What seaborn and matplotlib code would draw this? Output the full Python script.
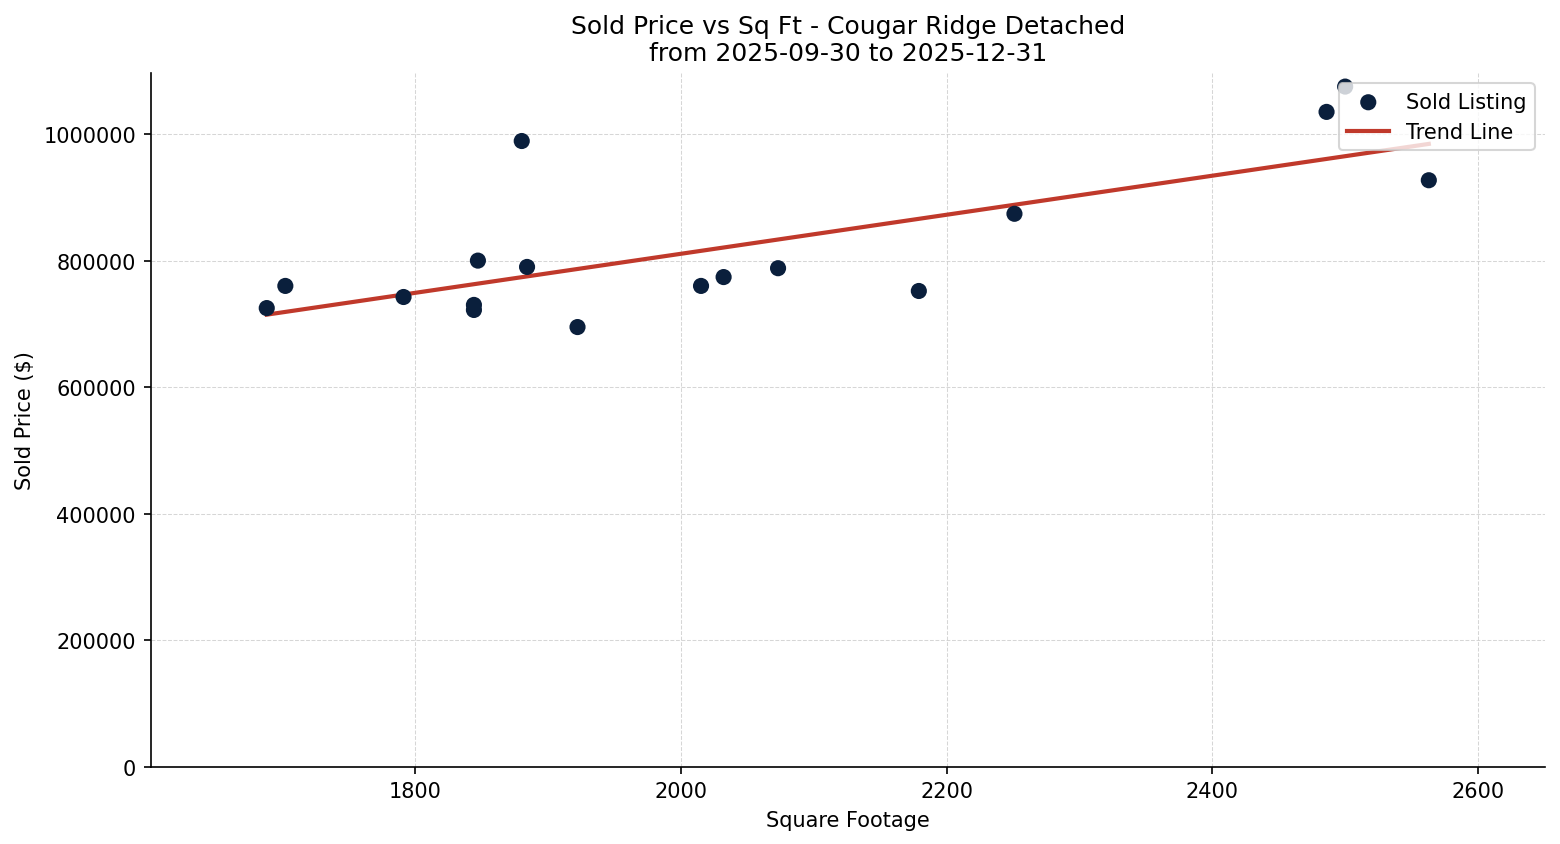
import numpy as np
import pandas as pd
import matplotlib
matplotlib.use("Agg")
import matplotlib.pyplot as plt
import seaborn as sns

# sold listings
sqft = [1688, 1702, 1791, 1844, 1844, 1847, 1880, 1884, 1922, 2015,
        2032, 2073, 2179, 2251, 2486, 2500, 2563]
sold_price = [725000, 760000, 742500, 730000, 722000, 800000, 989000, 790000,
              695000, 760000, 774000, 788000, 752000, 874000, 1035000, 1075000, 927000]

df = pd.DataFrame({"sqft": sqft, "price": sold_price})

# linear trend across the data range
slope, intercept = np.polyfit(df["sqft"], df["price"], 1)
trend = pd.DataFrame({"sqft": [df["sqft"].min(), df["sqft"].max()]})
trend["price"] = slope * trend["sqft"] + intercept

fig, ax = plt.subplots(figsize=(10.4, 5.633), dpi=150)

sns.lineplot(data=trend, x="sqft", y="price", color="#c0392b", linewidth=2,
             label="Trend Line", ax=ax, zorder=2)
sns.scatterplot(data=df, x="sqft", y="price", color="#0a1f3c", s=60,
                edgecolor="none", label="Sold Listing", ax=ax, zorder=3)

# pad the x range by 10% on each side
x_pad = (df["sqft"].max() - df["sqft"].min()) * 0.1
ax.set_xlim(df["sqft"].min() - x_pad, df["sqft"].max() + x_pad)
ax.set_ylim(0, df["price"].max() * 1.02)
ax.ticklabel_format(axis="y", style="plain", useOffset=False)

ax.grid(True, linestyle="--", linewidth=0.5, color="#cccccc", alpha=0.8)
ax.set_axisbelow(True)
sns.despine(ax=ax)

ax.set_title("Sold Price vs Sq Ft - Cougar Ridge Detached\nfrom 2025-09-30 to 2025-12-31")
ax.set_xlabel("Square Footage")
ax.set_ylabel("Sold Price ($)")

handles, labels = ax.get_legend_handles_labels()
order = [labels.index("Sold Listing"), labels.index("Trend Line")]
ax.legend([handles[i] for i in order], [labels[i] for i in order], loc="upper right")

fig.subplots_adjust(left=0.0965, right=0.9904, top=0.9125, bottom=0.0913)
plt.savefig("out.png", dpi=150)
